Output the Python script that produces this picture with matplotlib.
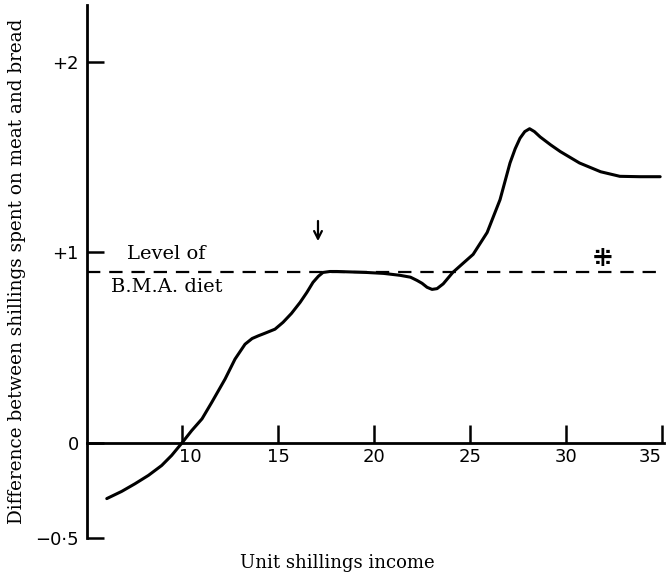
import numpy as np
import matplotlib.pyplot as plt
from matplotlib.transforms import ScaledTranslation

# values
income = [6.08, 6.86, 7.55, 8.25, 8.94, 9.46, 10.0, 10.5, 11.04, 11.55, 12.24, 12.76,
          13.28, 13.65, 13.97, 14.3, 14.84, 15.26, 15.7, 16.15, 16.5, 16.82, 17.1, 17.34,
          17.7, 18.07, 19.6, 20.5, 21.35, 21.9, 22.24, 22.5, 22.76, 23.02, 23.28, 23.6,
          24.1, 24.6, 25.16, 25.89, 26.56, 27.08, 27.35, 27.6, 27.85, 28.1, 28.35, 28.65,
          29.2, 29.7, 30.7, 31.8, 32.8, 33.85, 34.9]
diff = [-0.293, -0.255, -0.215, -0.171, -0.119, -0.066, 0.0, 0.064, 0.126, 0.213, 0.335,
        0.44, 0.518, 0.548, 0.562, 0.575, 0.597, 0.633, 0.68, 0.738, 0.79, 0.843, 0.875,
        0.895, 0.9, 0.9, 0.895, 0.89, 0.88, 0.87, 0.853, 0.838, 0.817, 0.806, 0.81, 0.835,
        0.895, 0.94, 0.99, 1.105, 1.277, 1.47, 1.545, 1.60, 1.635, 1.65, 1.635, 1.607,
        1.565, 1.53, 1.47, 1.424, 1.40, 1.398, 1.398]

bma_level = 0.895
bma_end = 34.9
xticks = [10, 15, 20, 25, 30, 35]
yticks = [-0.5, 0, 1, 2]
ylabels = ['\u22120\u00b75', '0', '+1', '+2']

fig = plt.figure(figsize=(6.66, 5.74), dpi=100)
ax = fig.add_axes([87 / 666, 36 / 574, 577 / 666, 533 / 574])
ax.set_xlim(5.05, 35.1)
ax.set_ylim(-0.5, 2.30)

ax.plot(income, diff, color='black', lw=2.2, solid_capstyle='round', solid_joinstyle='round')
ax.hlines(bma_level, 5.05, bma_end, colors='black', lw=1.6, linestyles=(0, (6, 4)))

ax.spines['top'].set_visible(False)
ax.spines['right'].set_visible(False)
ax.spines['bottom'].set_position(('data', 0))
ax.spines['left'].set_linewidth(2)
ax.spines['bottom'].set_linewidth(2)

ax.set_xticks(xticks)
ax.set_xticklabels([str(t) for t in xticks], fontfamily='DejaVu Sans', fontsize=13)
ax.set_yticks(yticks)
ax.set_yticklabels(ylabels, fontfamily='DejaVu Sans', fontsize=13)
ax.tick_params(axis='x', direction='in', length=13, width=1.8, pad=4)
ax.tick_params(axis='y', direction='in', length=12, width=1.8, pad=6)

# nudge the first and last x labels as in the print
labs = ax.get_xticklabels()
labs[0].set_transform(labs[0].get_transform() + ScaledTranslation(0.08, 0, fig.dpi_scale_trans))
labs[-1].set_transform(labs[-1].get_transform() + ScaledTranslation(-0.12, 0, fig.dpi_scale_trans))

ax.text(9.2, 0.99, 'Level of', fontfamily='DejaVu Serif', fontsize=14,
        ha='center', va='center')
ax.text(9.2, 0.82, 'B.M.A. diet', fontfamily='DejaVu Serif', fontsize=14,
        ha='center', va='center')
ax.text(31.9, 0.965, '\u205c', fontfamily='DejaVu Sans', fontsize=17,
        ha='center', va='center', fontweight='bold')
ax.annotate('', xy=(17.08, 1.045), xytext=(17.08, 1.18),
            arrowprops=dict(arrowstyle='->, head_length=0.55, head_width=0.28',
                            color='black', lw=1.6))

fig.text(17 / 666, 1 - 271 / 574, 'Difference between shillings spent on meat and bread',
         rotation=90, ha='center', va='center', fontfamily='DejaVu Serif', fontsize=13.2)
fig.text(337 / 666, 1 - 563 / 574, 'Unit shillings income',
         ha='center', va='center', fontfamily='DejaVu Serif', fontsize=13)

fig.savefig('out.png', dpi=100)
